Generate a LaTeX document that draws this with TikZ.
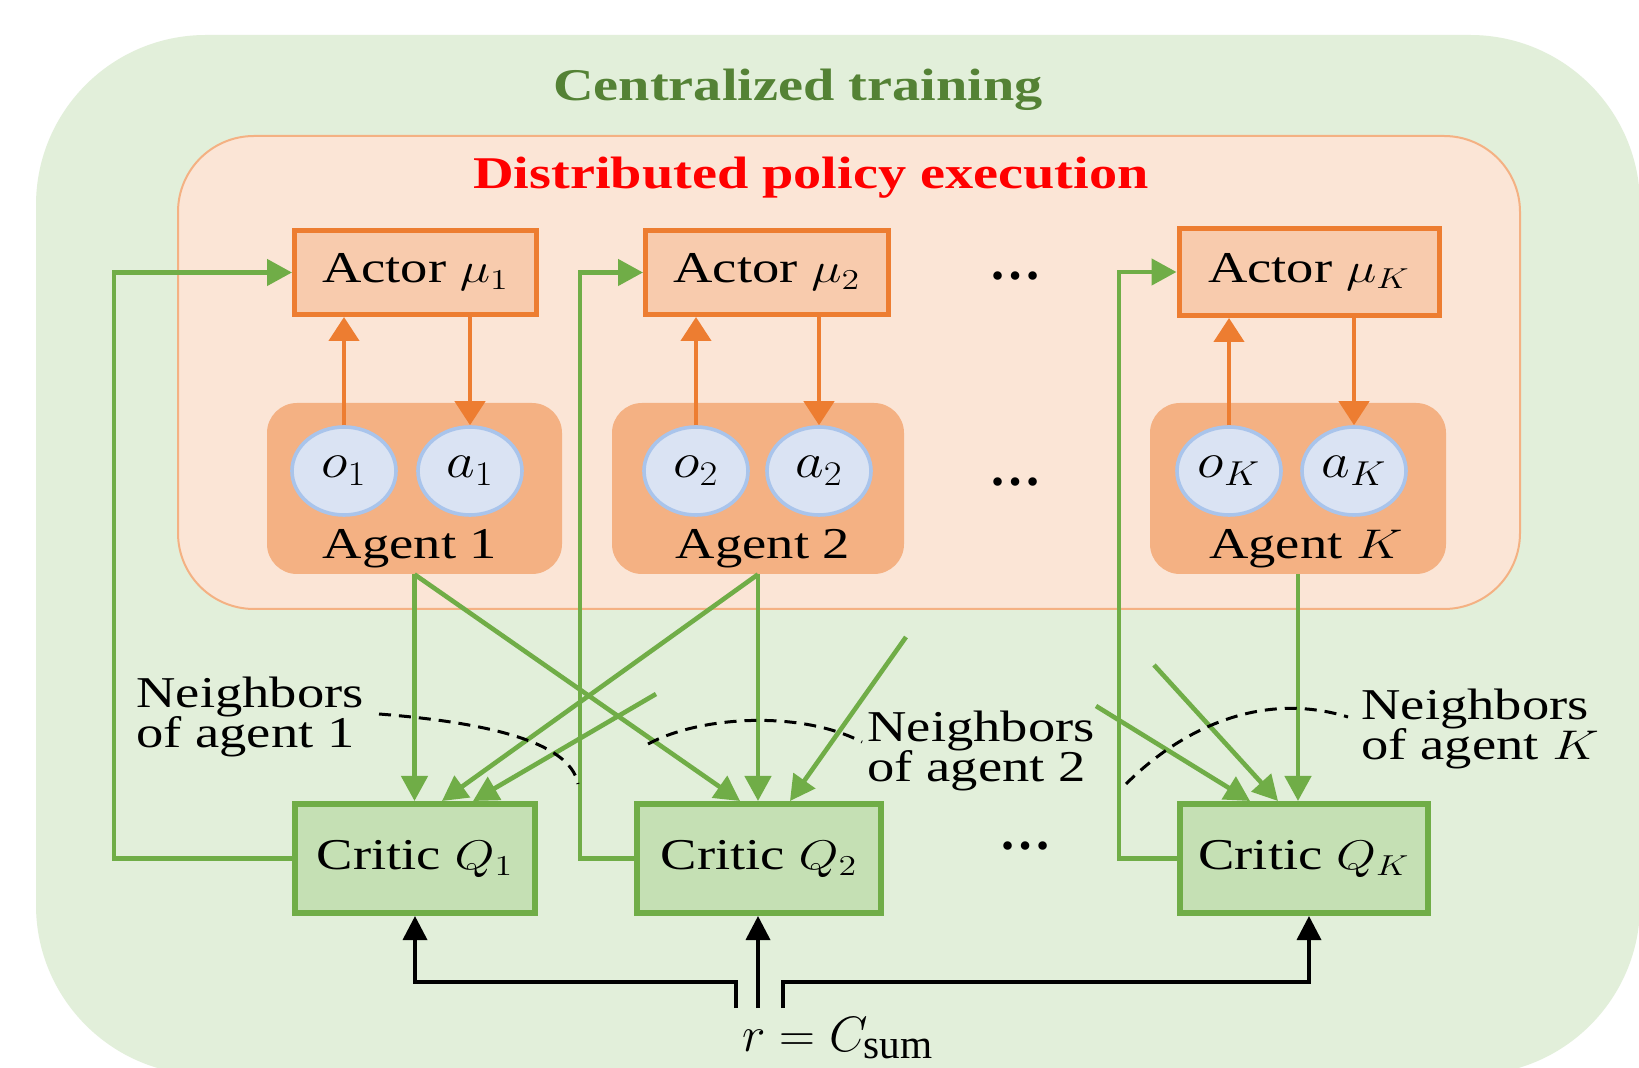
\documentclass[tikz,border=0pt]{standalone}
\usepackage{fontspec}
\setmainfont{Liberation Serif}
\usepackage{graphicx}
\usetikzlibrary{arrows.meta,shapes.geometric,calc}

\definecolor{bgGreen}{HTML}{E2EFDA}
\definecolor{pinkFill}{HTML}{FBE5D6}
\definecolor{pinkLine}{HTML}{F4B183}
\definecolor{actFill}{HTML}{F8CBAD}
\definecolor{orangeLine}{HTML}{ED7D31}
\definecolor{agentFill}{HTML}{F4B183}
\definecolor{circFill}{HTML}{DAE3F3}
\definecolor{circLine}{HTML}{A9C4EB}
\definecolor{criticFill}{HTML}{C5E0B4}
\definecolor{greenLine}{HTML}{70AD47}
\definecolor{titleGreen}{HTML}{548235}
\definecolor{titleRed}{HTML}{FF0000}

\newcommand{\hstr}[1]{\scalebox{1.24}[1]{#1}}
\newcommand{\hstrm}[1]{\scalebox{1.12}[1]{#1}}

\begin{document}
\begin{tikzpicture}[x=0.5pt,y=-0.5pt,
  txt/.style={font={\fontsize{22}{20.4}\selectfont\lineskiplimit=-20pt}, inner sep=0pt},
  titlef/.style={font=\fontsize{22.7}{24}\bfseries, inner sep=0pt, anchor=base},
  actor/.style={draw=orangeLine, fill=actFill, line width=2.5pt, inner sep=0pt, font=\fontsize{22}{24}\selectfont},
  critic/.style={draw=greenLine, fill=criticFill, line width=3pt, inner sep=0pt, minimum height=54.5pt, font=\fontsize{22}{24}\selectfont},
  agentbox/.style={fill=agentFill, rounded corners=15pt, inner sep=0pt, minimum height=85.5pt},
  obs/.style={ellipse, draw=circLine, fill=circFill, line width=1.8pt, minimum width=52pt, minimum height=44pt, inner sep=0pt, font=\fontsize{27}{27}\selectfont},
  oarr/.style={draw=orangeLine, line width=2.2pt, -{Triangle[length=12pt,width=15pt]}},
  garr/.style={draw=greenLine, line width=2.3pt, -{Triangle[length=12.5pt,width=13pt]}},
  barr/.style={draw=black, line width=1.8pt, -{Triangle[length=12pt,width=12pt]}},
  nbr/.style={draw=black, line width=1.5pt, dash pattern=on 6pt off 4pt},
  dotsnode/.style={font=\fontsize{26}{26}\bfseries, inner sep=0pt, anchor=base}
]
\useasboundingbox (0,0) rectangle (1639,1068);
\clip (0,0) rectangle (1639,1068);
\fill[white] (0,0) rectangle (1639,1068);

% backgrounds
\fill[bgGreen, rounded corners=85pt] (36,35) rectangle (1640,1075);
\draw[pinkLine, fill=pinkFill, line width=1pt, rounded corners=38pt] (178,136) rectangle (1520,609);

% titles
\node[titlef, text=titleGreen] (ct) at (798,101) {\hstr{Centralized training}};
\node[titlef, text=titleRed] (dp) at (811,189) {\hstr{Distributed policy execution}};

% agents
\node[agentbox, minimum width=147.5pt] (A1) at (414.5,488.5) {};
\node[agentbox, minimum width=146pt] (A2) at (758,488.5) {};
\node[agentbox, minimum width=148pt] (AK) at (1298,488.5) {};
\node[txt, anchor=base] (A1t) at (410,559) {\hstr{Agent 1}};
\node[txt, anchor=base] (A2t) at (763,559) {\hstr{Agent 2}};
\node[txt, anchor=base] (AKt) at (1306,559) {\hstr{Agent $K$}};

\node[obs] (o1) at (344,471) {\hstrm{$o_1$}};
\node[obs] (a1) at (470,471) {\hstrm{$a_1$}};
\node[obs] (o2) at (696,471) {\hstrm{$o_2$}};
\node[obs] (a2) at (819,471) {\hstrm{$a_2$}};
\node[obs] (oK) at (1229,471) {\hstrm{$o_K$}};
\node[obs] (aK) at (1354,471) {\hstrm{$a_K$}};

% actors
\node[actor, minimum width=121pt, minimum height=42pt] (mu1) at (415.5,272.5) {\hstr{Actor $\mu_1$}};
\node[actor, minimum width=121.5pt, minimum height=42pt] (mu2) at (767,272.5) {\hstr{Actor $\mu_2$}};
\node[actor, minimum width=130pt, minimum height=43.5pt] (muK) at (1309,272) {\hstr{Actor $\mu_K$}};

% critics
\node[critic, minimum width=120pt] (Q1) at (415,858.5) {\hstr{Critic $Q_1$}};
\node[critic, minimum width=122pt] (Q2) at (759,858.5) {\hstr{Critic $Q_2$}};
\node[critic, minimum width=124pt] (QK) at (1304,858.5) {\hstr{Critic $Q_K$}};

% dots
\node[dotsnode] (d1) at (1015,280) {…};
\node[dotsnode] (d2) at (1015,486) {…};
\node[dotsnode] (d3) at (1025,849) {…};

% orange arrows
\draw[oarr] (o1.north) -- (o1.north |- mu1.south);
\draw[oarr] (a1.north |- mu1.south) -- (a1.north);
\draw[oarr] (o2.north) -- (o2.north |- mu2.south);
\draw[oarr] (a2.north |- mu2.south) -- (a2.north);
\draw[oarr] (oK.north) -- (oK.north |- muK.south);
\draw[oarr] (aK.north |- muK.south) -- (aK.north);

% green feedback
\coordinate (c1) at (114,272.5);
\coordinate (c2) at (580,272.5);
\coordinate (cK) at (1119,272);
\draw[garr] (Q1.west) -| (c1) -- (mu1.west);
\draw[garr] (Q2.west) -| (c2) -- (mu2.west);
\draw[garr] (QK.west) -| (cK) -- (muK.west);

% green agent -> critic
\coordinate (f1) at (656,694);
\coordinate (f2) at (906,637);
\coordinate (f3) at (1154,665);
\coordinate (f4) at (1096,706);
\draw[garr] (A1.south) -- (A1.south |- Q1.north);
\draw[garr] (A1.south) -- ($(Q2.north)+(-19,0)$);
\draw[garr] (A2.south) -- (A2.south |- Q2.north);
\draw[garr] (A2.south) -- ($(Q1.north)+(27,0)$);
\draw[garr] (f1) -- ($(Q1.north)+(58,0)$);
\draw[garr] (f2) -- ($(Q2.north)+(31,0)$);
\draw[garr] (AK.south) -- (AK.south |- QK.north);
\draw[garr] (f3) -- ($(QK.north)+(-26,0)$);
\draw[garr] (f4) -- ($(QK.north)+(-54,0)$);

% neighbor labels
\node[txt, anchor=west, align=left] (nb1) at (136,717) {\hstr{Neighbors}\\\hstr{of agent 1}};
\node[txt, anchor=west, align=left] (nb2) at (867,751) {\hstr{Neighbors}\\\hstr{of agent 2}};
\node[txt, anchor=west, align=left] (nbK) at (1361,729) {\hstr{Neighbors}\\\hstr{of agent $K$}};
\draw[nbr] (379,714) .. controls (480,722) and (570,740) .. (578,784);
\draw[nbr] (648,744) .. controls (700,716) and (800,710) .. (862,742);
\draw[nbr] (1126,784) .. controls (1180,730) and (1260,690) .. (1348,717);

% reward
\node[inner sep=0pt, anchor=base, font=\fontsize{29.5}{30}\selectfont] (rw) at (838,1051) {$r = C_{\mathrm{sum}}$};
\coordinate (rl) at (736,1008);
\coordinate (rc) at (758,1008);
\coordinate (rr) at (783,1008);
\draw[barr] (rl) |- ($(Q1.south)+(0,66)$) -- (Q1.south);
\draw[barr] (rc) -- (rc |- Q2.south);
\draw[barr] (rr) |- ($(QK.south)+(5,66)$) -- ($(QK.south)+(5,0)$);
\end{tikzpicture}
\end{document}
